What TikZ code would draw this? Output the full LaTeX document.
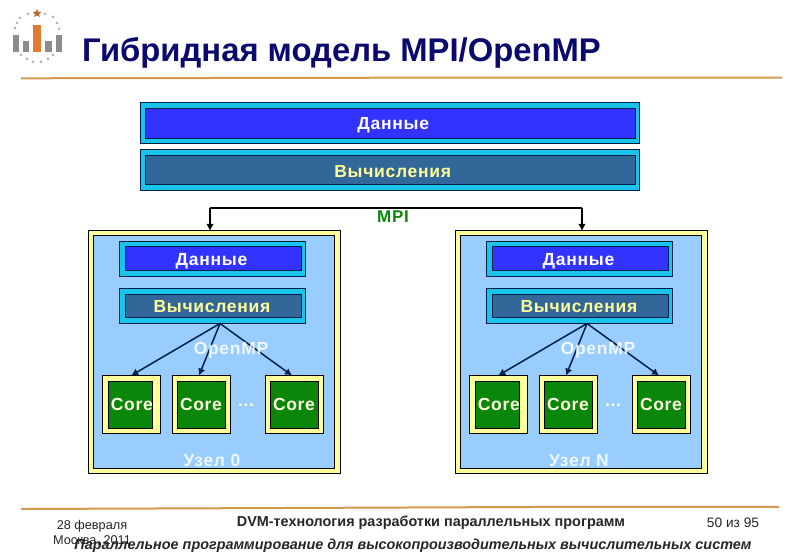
\documentclass[tikz,border=0pt]{standalone}
\usepackage{fontspec}
\setmainfont{Liberation Sans}
\newfontfamily\boxfont[LetterSpace=4]{Liberation Sans}
\usetikzlibrary{calc,arrows.meta}
\definecolor{ttl}{HTML}{0A0A6E}
\definecolor{rulec}{HTML}{D39A4E}
\definecolor{cy}{HTML}{19C3EA}
\definecolor{blu}{HTML}{3333FF}
\definecolor{steel}{HTML}{336699}
\definecolor{edge}{HTML}{00204A}
\definecolor{sky}{HTML}{99CCFF}
\definecolor{yel}{HTML}{FFFF99}
\definecolor{grn}{HTML}{0A860A}
\definecolor{gry}{HTML}{8C8C8C}
\definecolor{org}{HTML}{E07B33}
\tikzset{
 x=1pt,y=-1pt,
 plate/.style={rectangle,draw=#1,line width=1pt,inner sep=0,outer sep=0,anchor=north west},
 lab/.style={font=\boxfont\bfseries\fontsize{17.5}{19}\selectfont,inner sep=0},
 link/.style={line width=1.5pt,draw=#1,-{Latex[length=7pt,width=7.5pt]}},
 rulel/.style={draw=rulec,line width=2pt},
 foot/.style={font=\fontsize{12.7}{14}\selectfont,inner sep=0,text=black!85},
}
\newcommand{\tier}[3]{% prefix, dx, node label
 \begin{scope}[xshift=#2pt]
 \node[plate=black,fill=yel,minimum width=252.5pt,minimum height=242pt] (#1o) at (88,231) {};
 \node[plate=black,fill=sky,minimum width=241.5pt,minimum height=232pt] (#1i) at (93,236) {};
 \node[plate=edge,fill=cy,minimum width=186pt,minimum height=35pt] (#1do) at (119.5,241.5) {};
 \node[plate=edge,fill=blu,minimum width=176pt,minimum height=24pt] (#1d) at (125,247) {};
 \node[lab,text=white] (#1dt) at ($(#1d.center)+(-1.5,2.5)$) {Данные};
 \node[plate=edge,fill=cy,minimum width=186pt,minimum height=35pt] (#1co) at (119.5,288.5) {};
 \node[plate=edge,fill=steel,minimum width=176pt,minimum height=23pt] (#1c) at (125,294.5) {};
 \node[lab,text=yel] (#1ct) at ($(#1c.center)+(-1,0.5)$) {Вычисления};
 \node[plate=black,fill=yel,minimum width=58pt,minimum height=58pt] (#1k1o) at (102.5,375.5) {};
 \node[plate=black,fill=grn,minimum width=44pt,minimum height=47pt] (#1k1) at (108.3,381) {};
 \node[lab,text=yel!30] (#1k1t) at ($(#1k1.center)+(1.5,0)$) {Core};
 \node[plate=black,fill=yel,minimum width=58pt,minimum height=58pt] (#1k2o) at (172.5,375.5) {};
 \node[plate=black,fill=grn,minimum width=48pt,minimum height=47pt,lab,text=yel!30] (#1k2) at (177,381) {Core};
 \node[plate=black,fill=yel,minimum width=58pt,minimum height=58pt] (#1k3o) at (265.5,375.5) {};
 \node[plate=black,fill=grn,minimum width=48pt,minimum height=47pt,lab,text=yel!30] (#1k3) at (270,381) {Core};
 \node[lab,text=yel!50] (#1dots) at (246,405) {...};
 \coordinate (#1f) at (220,323.5);
 \draw[link=edge] (#1f) -- ($(#1k1o.north)+(-0.3,0)$);
 \draw[link=edge] (#1f) -- ($(#1k2o.north)+(-2.5,0)$);
 \draw[link=edge] (#1f) -- ($(#1k3o.north)+(-2.5,0)$);
 \node[lab,text=white,opacity=.85] (#1omp) at (231,350.5) {OpenMP};
 \node[lab,text=white,opacity=.85] (#1lab) at (212,460.5) {#3};
 \end{scope}
}
\begin{document}
\begin{tikzpicture}
\useasboundingbox (0,0) rectangle (800,553);
\fill[white] (0,0) rectangle (800,553);
% logo
\foreach \p/\q in {28/14,45/14,20/18,53/17,17/23,57/23,15/28,59/29,21/55,27/59,33/62,41/62,48/59,53/55}{\fill[black!30] (\p,\q) circle (1.5);}
\fill[gry] (12.5,35) rectangle (19,52);
\fill[gry] (23,41) rectangle (29,52);
\fill[org] (33,25) rectangle (41,52);
\fill[gry] (45,41) rectangle (52,52);
\fill[gry] (55.7,35) rectangle (62,52);
\fill[org!85!black] (37,9) -- (38.3,12) -- (41.5,12) -- (39,14.2) -- (40,17) -- (37,15.4) -- (34,17) -- (35,14.2) -- (32.5,12) -- (35.7,12) -- cycle;
% title
\node[anchor=west,inner sep=0,text=ttl,font=\bfseries\fontsize{32.8}{34}\selectfont] (title) at (82,52.5) {Гибридная модель MPI/OpenMP};
\coordinate (ra) at (21,78.3); \coordinate (rb) at (403,77.7); \coordinate (rc) at (782,77.7);
\draw[rulel] (ra) -- (rb) -- (rc);
% top boxes
\node[plate=edge,fill=cy,minimum width=499pt,minimum height=41pt] (dataO) at (140.5,102.5) {};
\node[plate=edge,fill=blu,minimum width=489.5pt,minimum height=30pt] (data) at (145.5,109) {};
\node[lab,text=white] (datat) at ($(data.center)+(3,1)$) {Данные};
\node[plate=edge,fill=cy,minimum width=499pt,minimum height=41pt] (calcO) at (140.5,149.5) {};
\node[plate=edge,fill=steel,minimum width=489.5pt,minimum height=29pt] (calc) at (145.5,155.5) {};
\node[lab,text=yel] (calct) at ($(calc.center)+(2.5,1.5)$) {Вычисления};
% nodes
\tier{a}{0}{Узел 0}
\tier{b}{367}{Узел N}
% mpi bus
\coordinate (busL) at (210,208);
\coordinate (busR) at (582,208);
\draw[line width=1.5pt,black] (busL) -- (busR);
\draw[link=black] (busL) -- (busL |- ao.north);
\draw[link=black] (busR) -- (busR |- bo.north);
\node[font=\boxfont\bfseries\fontsize{17}{18}\selectfont,text=grn,inner sep=0] (mpi) at (393,217) {MPI};
% footer
\coordinate (fa) at (21,509); \coordinate (fb) at (208,508.3); \coordinate (fc) at (580,506.8); \coordinate (fd) at (779,507);
\draw[rulel] (fa) -- (fb) -- (fc) -- (fd);
\node[foot] (date) at (92,526) {28 февраля};
\node[foot] (city) at (92,540.5) {Москва, 2011};
\node[foot,font=\bfseries\fontsize{14.4}{15}\selectfont] (ftitle) at (431,523) {DVM-технология разработки параллельных программ};
\node[foot,font=\fontsize{13.7}{14}\selectfont] (pg) at (733,523) {50 из 95};
\node[foot,font=\bfseries\itshape\fontsize{14.4}{15}\selectfont] (course) at (413,546) {Параллельное программирование для высокопроизводительных вычислительных систем};
\end{tikzpicture}
\end{document}
